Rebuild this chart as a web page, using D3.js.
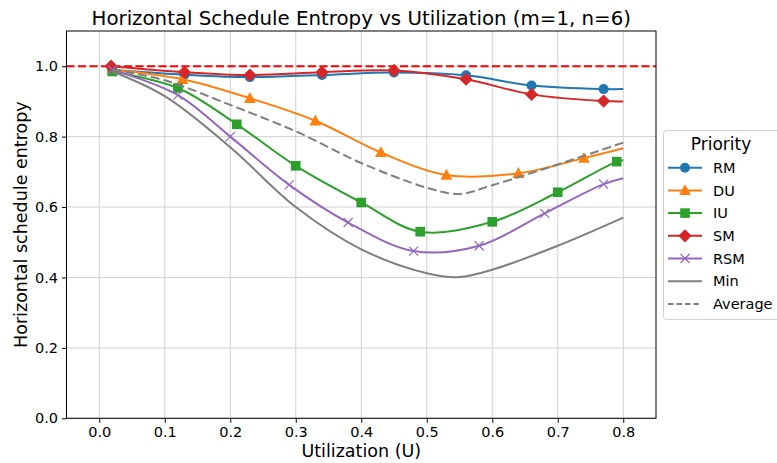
<!DOCTYPE html>
<html>
<head>
<meta charset="utf-8">
<script src="https://cdn.jsdelivr.net/npm/d3@7"></script>
<style>
  body { margin: 0; background: #fff; }
  text { font-family: "DejaVu Sans", sans-serif; fill: #000; }
</style>
</head>
<body>
<div id="chart"></div>
<script>
// values
const rmX = [0.02, 0.13, 0.23, 0.34, 0.45, 0.56, 0.66, 0.77, 0.80];
const rmY = [0.990, 0.976, 0.969, 0.975, 0.982, 0.974, 0.945, 0.935, 0.935];
const duX = [0.02, 0.127, 0.23, 0.33, 0.43, 0.53, 0.64, 0.74, 0.80];
const duY = [0.990, 0.963, 0.909, 0.845, 0.755, 0.691, 0.696, 0.739, 0.767];
const iuX = [0.02, 0.12, 0.21, 0.30, 0.40, 0.49, 0.60, 0.70, 0.79, 0.80];
const iuY = [0.985, 0.938, 0.835, 0.717, 0.613, 0.530, 0.558, 0.642, 0.729, 0.733];
const smX = [0.018, 0.13, 0.23, 0.34, 0.45, 0.56, 0.66, 0.77, 0.80];
const smY = [1.000, 0.983, 0.975, 0.983, 0.988, 0.963, 0.920, 0.901, 0.900];
const rsmX = [0.02, 0.12, 0.20, 0.29, 0.38, 0.48, 0.58, 0.68, 0.77, 0.80];
const rsmY = [0.990, 0.918, 0.800, 0.663, 0.556, 0.475, 0.490, 0.582, 0.665, 0.682];
const minX = [0.02, 0.10, 0.20, 0.30, 0.40, 0.50, 0.55, 0.60, 0.70, 0.80];
const minY = [0.985, 0.915, 0.770, 0.600, 0.480, 0.412, 0.401, 0.422, 0.490, 0.570];
const avgX = [0.02, 0.10, 0.20, 0.30, 0.40, 0.50, 0.55, 0.60, 0.70, 0.80];
const avgY = [0.990, 0.960, 0.890, 0.815, 0.725, 0.655, 0.637, 0.662, 0.721, 0.783];

const xTicks = [0.0, 0.1, 0.2, 0.3, 0.4, 0.5, 0.6, 0.7, 0.8];
const yTicks = [0.0, 0.2, 0.4, 0.6, 0.8, 1.0];
const refLine = 1.0;

const series = [
    { name: "RM", xs: rmX, ys: rmY, color: "#1f77b4", marker: "circle" },
    { name: "DU", xs: duX, ys: duY, color: "#ff7f0e", marker: "triangle" },
    { name: "IU", xs: iuX, ys: iuY, color: "#2ca02c", marker: "square" },
    { name: "SM", xs: smX, ys: smY, color: "#d62728", marker: "diamond" },
    { name: "RSM", xs: rsmX, ys: rsmY, color: "#9467bd", marker: "x" },
    { name: "Min", xs: minX, ys: minY, color: "#7f7f7f", marker: null },
    { name: "Average", xs: avgX, ys: avgY, color: "#7f7f7f", marker: null, dash: "9,4" }
];

const w = 777, h = 463;
const m = { left: 66.5, right: 656, top: 31, bottom: 418.3 };

const svg = d3.select('#chart').append('svg')
    .attr('width', w).attr('height', h);

const xScale = d3.scaleLinear().domain([-0.05, 0.85]).range([m.left, m.right]);
const yScale = d3.scaleLinear().domain([0, 1.1]).range([m.bottom, m.top]);

// grid
svg.append('g').selectAll('line').data(xTicks).enter().append('line')
    .attr('x1', d => xScale(d)).attr('x2', d => xScale(d))
    .attr('y1', m.top).attr('y2', m.bottom)
    .attr('stroke', '#d0d0d0').attr('stroke-width', 1);
svg.append('g').selectAll('line').data(yTicks).enter().append('line')
    .attr('x1', m.left).attr('x2', m.right)
    .attr('y1', d => yScale(d)).attr('y2', d => yScale(d))
    .attr('stroke', '#d0d0d0').attr('stroke-width', 1);

const plot = svg.append('g');

// reference line at 1.0
plot.append('line')
    .attr('x1', m.left).attr('x2', m.right)
    .attr('y1', yScale(refLine)).attr('y2', yScale(refLine))
    .attr('stroke', '#ff0000').attr('stroke-width', 2)
    .attr('stroke-dasharray', '8,3.5');

const line = d3.line()
    .x(d => xScale(d[0]))
    .y(d => yScale(d[1]))
    .curve(d3.curveCatmullRom.alpha(0.5));

function drawMarker(g, type, x, y, color) {
    if (type === 'circle') {
        g.append('circle').attr('cx', x).attr('cy', y).attr('r', 5)
            .attr('fill', color);
    } else if (type === 'triangle') {
        const r = 6.2;
        g.append('path')
            .attr('d', `M${x},${y - r}L${x + r * 0.95},${y + r * 0.75}L${x - r * 0.95},${y + r * 0.75}Z`)
            .attr('fill', color);
    } else if (type === 'square') {
        g.append('rect').attr('x', x - 4.8).attr('y', y - 4.8)
            .attr('width', 9.6).attr('height', 9.6).attr('fill', color);
    } else if (type === 'diamond') {
        const r = 6.6;
        g.append('path')
            .attr('d', `M${x},${y - r}L${x + r},${y}L${x},${y + r}L${x - r},${y}Z`)
            .attr('fill', color);
    } else if (type === 'x') {
        const r = 4.5;
        g.append('path')
            .attr('d', `M${x - r},${y - r}L${x + r},${y + r}M${x - r},${y + r}L${x + r},${y - r}`)
            .attr('stroke', color).attr('stroke-width', 1.2).attr('fill', 'none');
    }
}

series.forEach(s => {
    const pts = s.xs.map((x, i) => [x, s.ys[i]]);
    const g = plot.append('g');
    g.append('path')
        .attr('d', line(pts))
        .attr('fill', 'none')
        .attr('stroke', s.color)
        .attr('stroke-width', 2)
        .attr('stroke-dasharray', s.dash || null);
    if (s.marker) {
        // the last point is only the end of the curve, no marker there
        pts.slice(0, -1).forEach(p => drawMarker(g, s.marker, xScale(p[0]), yScale(p[1]), s.color));
    }
});

// axes
const xAxis = d3.axisBottom(xScale).tickValues(xTicks).tickFormat(d3.format('.1f')).tickSizeOuter(0).tickSize(4.5);
const yAxis = d3.axisLeft(yScale).tickValues(yTicks).tickFormat(d3.format('.1f')).tickSizeOuter(0).tickSize(4.5);

const gx = svg.append('g').attr('transform', `translate(0,${m.bottom})`).call(xAxis);
const gy = svg.append('g').attr('transform', `translate(${m.left},0)`).call(yAxis);
[gx, gy].forEach(g => {
    g.selectAll('text').style('font-size', '14.5px').style('font-family', '"DejaVu Sans", sans-serif');
    g.select('.domain').remove();
});
gx.selectAll('text').attr('dy', '0.71em').attr('y', 8.5);
gy.selectAll('text').attr('x', -8.5);

// frame
svg.append('rect')
    .attr('x', m.left).attr('y', m.top)
    .attr('width', m.right - m.left).attr('height', m.bottom - m.top)
    .attr('fill', 'none').attr('stroke', '#000').attr('stroke-width', 1);

// title and labels
svg.append('text')
    .attr('x', (m.left + m.right) / 2).attr('y', 25)
    .attr('text-anchor', 'middle').style('font-size', '19.8px')
    .text('Horizontal Schedule Entropy vs Utilization (m=1, n=6)');
svg.append('text')
    .attr('x', (m.left + m.right) / 2).attr('y', 457)
    .attr('text-anchor', 'middle').style('font-size', '17.5px')
    .text('Utilization (U)');
svg.append('text')
    .attr('transform', `translate(27,${(m.top + m.bottom) / 2}) rotate(-90)`)
    .attr('text-anchor', 'middle').style('font-size', '17.5px')
    .text('Horizontal schedule entropy');

// legend
const leg = svg.append('g');
leg.append('rect')
    .attr('x', 663.5).attr('y', 130.5).attr('width', 118).attr('height', 189)
    .attr('rx', 3).attr('fill', '#fff').attr('fill-opacity', 0.8)
    .attr('stroke', '#d0d0d0').attr('stroke-width', 1);
leg.append('text')
    .attr('x', 721).attr('y', 150).attr('text-anchor', 'middle')
    .style('font-size', '17px').text('Priority');
series.forEach((s, i) => {
    const y = 167.7 + i * 22.7;
    const g = leg.append('g');
    g.append('line')
        .attr('x1', 668).attr('x2', 702).attr('y1', y).attr('y2', y)
        .attr('stroke', s.color).attr('stroke-width', 2)
        .attr('stroke-dasharray', s.dash ? '5.5,3' : null);
    if (s.marker) drawMarker(g, s.marker, 685, y, s.color);
    g.append('text')
        .attr('x', 713).attr('y', y).attr('dy', '0.36em')
        .style('font-size', '14.5px').text(s.name);
});
</script>
</body>
</html>
